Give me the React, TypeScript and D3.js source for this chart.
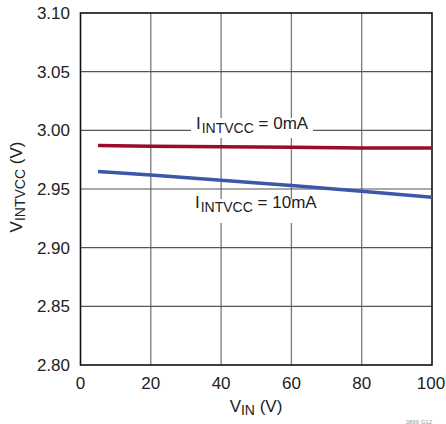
import React from "react";
import * as d3 from "d3";

const vin = [5, 20, 40, 60, 80, 100];
const v0mA = [2.987, 2.9865, 2.986, 2.9855, 2.985, 2.985];
const v10mA = [2.965, 2.962, 2.9575, 2.953, 2.948, 2.943];
const xTicks = [0, 20, 40, 60, 80, 100];
const yTicks = [2.8, 2.85, 2.9, 2.95, 3.0, 3.05, 3.1];

const W = 446;
const H = 424;
const FONT = "'Liberation Sans', Arial, sans-serif";

export default function App() {
  const x = d3.scaleLinear().domain([0, 100]).range([80.5, 432]);
  const y = d3.scaleLinear().domain([2.8, 3.1]).range([365, 13]);
  const line = d3
    .line<number>()
    .x((_, i) => x(vin[i]))
    .y((d) => y(d));

  return (
    <div style={{ position: "absolute", left: 0, top: 0 }}>
      <svg width={W} height={H} style={{ display: "block", background: "#fff" }} fontFamily={FONT}>
        {/* grid */}
        {xTicks.slice(1, -1).map((t) => (
          <line key={"gx" + t} x1={x(t)} x2={x(t)} y1={y(3.1)} y2={y(2.8)} stroke="#7a7a7a" strokeWidth={1.3} />
        ))}
        {yTicks.slice(1, -1).map((t) => (
          <line key={"gy" + t} x1={x(0)} x2={x(100)} y1={y(t)} y2={y(t)} stroke="#555" strokeWidth={1.2} />
        ))}
        {/* label backgrounds */}
        <rect x={191} y={118} width={122} height={20} fill="#fff" />
        <rect x={191} y={199} width={124} height={24} fill="#fff" />
        {/* frame */}
        <rect x={x(0)} y={y(3.1)} width={x(100) - x(0)} height={y(2.8) - y(3.1)} fill="none" stroke="#111" strokeWidth={1.6} />
        {/* series */}
        <path d={line(v0mA) || ""} fill="none" stroke="#9c0b2e" strokeWidth={3.5} />
        <path d={line(v10mA) || ""} fill="none" stroke="#3a57a8" strokeWidth={3.5} />
        {/* series labels */}
        <text x={196} y={129} fontSize={17} fill="#222">
          I<tspan fontSize={14} dy={4} dx={1}>INTVCC</tspan>
          <tspan dy={-4}> = 0mA</tspan>
        </text>
        <text x={195} y={208} fontSize={17} fill="#222">
          I<tspan fontSize={14} dy={4} dx={1}>INTVCC</tspan>
          <tspan dy={-4}> = 10mA</tspan>
        </text>
        {/* y ticks */}
        {yTicks.map((t) => (
          <text key={"ty" + t} x={70} y={y(t) + 6} fontSize={17} textAnchor="end" fill="#222">
            {t.toFixed(2)}
          </text>
        ))}
        {/* x ticks */}
        {xTicks.map((t) => (
          <text key={"tx" + t} x={x(t) + (t === 100 ? -1 : 0)} y={388.5} fontSize={17} textAnchor="middle" fill="#222">
            {t}
          </text>
        ))}
        {/* axis titles */}
        <text x={256} y={412} fontSize={17} textAnchor="middle" fill="#222">
          V<tspan fontSize={14} dy={3}>IN</tspan>
          <tspan dy={-3}> (V)</tspan>
        </text>
        <text transform="translate(22,187) rotate(-90)" fontSize={17} textAnchor="middle" fill="#222">
          V<tspan fontSize={14} dy={3}>INTVCC</tspan>
          <tspan dy={-3}> (V)</tspan>
        </text>
        <text x={432} y={423.5} fontSize={6} textAnchor="end" fill="#999">3896 G12</text>
      </svg>
    </div>
  );
}
